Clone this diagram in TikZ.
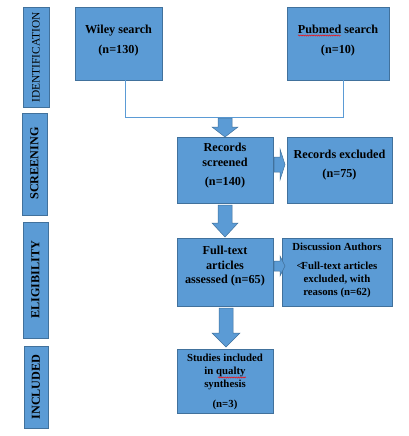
\documentclass[tikz,border=0pt]{standalone}
\usepackage{fontspec}
\setmainfont{Liberation Serif}
\usetikzlibrary{decorations.pathmorphing}
\definecolor{boxfill}{HTML}{5B9BD5}
\definecolor{boxline}{HTML}{41719C}
\begin{document}
\begin{tikzpicture}[x=1pt,y=-1pt,
  box/.style={draw=boxline, fill=boxfill, line width=0.8pt, inner sep=0pt},
  side/.style={font=\fontsize{12.2}{14}\selectfont\bfseries, rotate=90, inner sep=0pt},
  txt/.style={font=\fontsize{12.2}{14.5}\selectfont\bfseries, align=center, inner sep=0pt},
  txts/.style={font=\fontsize{10.8}{13}\selectfont\bfseries, align=center, inner sep=0pt},
  blockarrow/.style={draw=boxline, fill=boxfill, line width=0.5pt},
  conn/.style={draw=boxfill, line width=0.8pt},
  spell/.style={draw=red, line width=0.45pt, decorate, decoration={snake, amplitude=0.6pt, segment length=2.2pt}}]
\useasboundingbox (0,0) rectangle (409,436);
% side labels
\node[box, minimum width=26pt, minimum height=100pt] (id) at (36,57) {};
\node[rotate=90, inner sep=0pt, font=\fontsize{11.4}{14}\selectfont] (idt) at (36,57.5) {IDENTIFICATION};
\node[box, minimum width=25pt, minimum height=102pt] (scr) at (34.5,164) {};
\node[side] (scrt) at (34.5,163.5) {SCREENING};
\node[box, minimum width=25pt, minimum height=116pt] (eli) at (35.5,280) {};
\node[side] (elit) at (35.5,280) {ELIGIBILITY};
\node[box, minimum width=24pt, minimum height=82pt] (inc) at (36,387) {};
\node[side] (inct) at (36,387) {INCLUDED};
% main boxes
\node[box, minimum width=87pt, minimum height=73pt] (wiley) at (118.5,43.5) {};
\node[txt] (wileyt) at (118.5,40.5) {Wiley search\\[5pt](n=130)};
\node[box, minimum width=102pt, minimum height=73pt] (pubmed) at (338,43.5) {};
\node[txt] (pubmedt) at (338,40.5) {Pubmed search\\[5pt](n=10)};
\node[box, minimum width=96pt, minimum height=66pt] (rs) at (225,170) {};
\node[txt] (rst) at (225,166) {Records\\screened\\[5pt](n=140)};
\node[box, minimum width=105pt, minimum height=66pt] (rex) at (339.5,170) {};
\node[txt] (rext) at (339.5,165) {Records excluded\\[5pt](n=75)};
\node[box, minimum width=96pt, minimum height=68pt] (ft) at (225,272) {};
\node[txt] (ftt) at (225,266.5) {Full-text\\articles\\assessed (n=65)};
\node[box, minimum width=110pt, minimum height=68pt] (disc) at (337,272) {};
\node[txts] (disct) at (337,270.5) {Discussion Authors\\[6pt]<\kern-1.5pt Full-text articles\\excluded, with\\reasons (n=62)};
\node[box, minimum width=96pt, minimum height=64pt] (stud) at (225,381) {};
\node[txts] (studt) at (225,381.5) {Studies included\\in qualty\\synthesis\\[7pt](n=3)};
% connector
\coordinate (j1) at (125,117);
\coordinate (j2) at (343,117);
\draw[conn] (wiley.south -| j1) -- (j1) -- (j2) -- (pubmed.south -| j2);
% block arrows
\draw[blockarrow] (218,118) -- (232,118) -- (232,127) -- (238,127) -- (225,137) -- (212,127) -- (218,127) -- cycle;
\draw[blockarrow] (218,205) -- (232,205) -- (232,223) -- (238,223) -- (225,237) -- (212,223) -- (218,223) -- cycle;
\draw[blockarrow] (219,308) -- (233,308) -- (233,333) -- (240,333) -- (226,347) -- (212,333) -- (219,333) -- cycle;
\draw[blockarrow] (274,157) -- (280,157) -- (280,149) -- (285,164.5) -- (280,180) -- (280,172) -- (274,172) -- cycle;
\draw[blockarrow] (274,261) -- (280,261) -- (280,256) -- (285,266) -- (280,276) -- (280,271) -- (274,271) -- cycle;
% spelling marks
\draw[spell] (298,35.5) -- (341,35.5);
\draw[spell] (218,377.5) -- (246,377.5);
\end{tikzpicture}
\end{document}
